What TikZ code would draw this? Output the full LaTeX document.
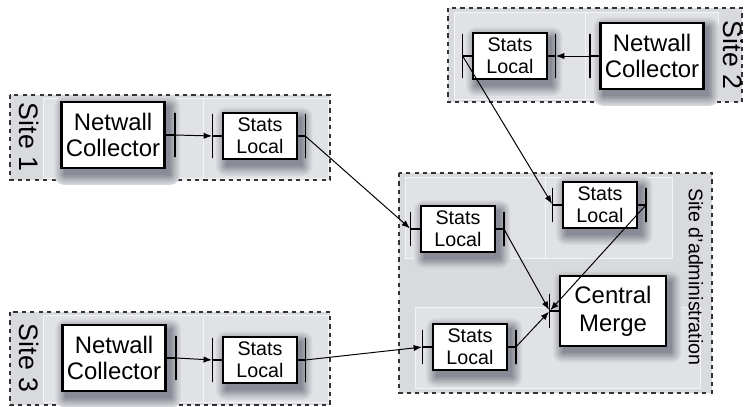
\documentclass[tikz,border=0pt]{standalone}
\usepackage{fontspec}
\setmainfont{Liberation Sans}
\usetikzlibrary{positioning,arrows.meta}
\definecolor{sitegray}{RGB}{216,218,222}
\definecolor{panelgray}{RGB}{224,226,229}
\definecolor{shadegray}{RGB}{40,42,60}
\pgfdeclarelayer{background}
\pgfdeclarelayer{shade}
\pgfsetlayers{background,shade,main}
\tikzset{
  >={Latex[length=6pt,width=4.5pt]},
  site/.style={draw=black!80,dashed,line width=0.8pt,fill=sitegray},
  panel/.style={draw=white!70!sitegray,fill=panelgray,line width=0.4pt},
  sitelbl/.style={rotate=-90,font=\fontsize{19}{21}\selectfont,inner sep=0pt},
  admlbl/.style={rotate=-90,font=\fontsize{14}{16}\selectfont,inner sep=0pt},
  collbox/.style={draw,fill=white,line width=1.8pt,align=center,
    minimum width=2.58cm,minimum height=1.66cm,inner sep=1pt,
    font=\fontsize{17}{19}\selectfont},
  statbox/.style={draw,fill=white,line width=1.8pt,align=center,
    minimum width=1.85cm,minimum height=1.16cm,inner sep=1pt,
    font=\fontsize{14}{15.5}\selectfont},
  mergebox/.style={draw,fill=white,line width=1.8pt,align=center,
    minimum width=2.65cm,minimum height=1.74cm,inner sep=1pt,
    font=\fontsize{17}{20}\selectfont},
  port/.style={draw,line width=0.9pt,minimum width=0pt,inner sep=0pt,
    minimum height=#1},
  port/.default=1.1cm,
  sport/.style={port=1.1cm},
  aport/.style={port=0.86cm},
  stub/.style={line width=0.9pt},
  flow/.style={->,line width=0.7pt},
}
% soft shadow below a box
\newcommand\boxshade[1]{%
  \begin{pgfonlayer}{shade}
  \foreach \m/\c in {7/6,6/11,5/17,4/23,3/29,2/35,1/41,0/47}
    \fill[shadegray!\c!panelgray,rounded corners=\m pt]
      ([xshift=3pt-\m pt,yshift=-4pt-\m pt]#1.south west) rectangle
      ([xshift=3pt+\m pt,yshift=-4pt+\m pt]#1.north east);
  \end{pgfonlayer}}

\begin{document}
\begin{tikzpicture}[x=0.025cm,y=-0.025cm]
  \useasboundingbox (0,0) rectangle (745,407);
  \begin{pgfonlayer}{background}
  % sites
  \draw[site] (10,95) rectangle (330,180);
  \draw[site] (10,312) rectangle (330,405);
  \draw[site] (448,8) rectangle (742,102);
  \draw[site] (399,173) rectangle (712,393);
  % faint panels
  \draw[panel] (43,98) rectangle (203,178);
  \draw[panel] (203,98) rectangle (328,178);
  \draw[panel] (43,315) rectangle (203,402);
  \draw[panel] (203,315) rectangle (328,402);
  \draw[panel] (454,12) rectangle (585,99);
  \draw[panel] (585,12) rectangle (718,99);
  \draw[panel] (405,177) rectangle (545,258);
  \draw[panel] (545,177) rectangle (672,258);
  \draw[panel] (415,307) rectangle (700,388);
  \end{pgfonlayer}
  \node[sitelbl] (lbl1) at (29,137) {Site 1};
  \node[sitelbl] (lbl3) at (29,358) {Site 3};
  \node[sitelbl] (lbl2) at (733,55) {Site 2};
  \node[admlbl] (lbla) at (696,277) {Site d'administration};

  % site 1
  \node[collbox] (nc1) at (113,135) {Netwall\\Collector};
  \node[statbox] (sl1) at (260,136) {Stats\\Local};
  \node[sport,right=6pt of nc1] (nc1o) {};
  \node[sport,left=6pt of sl1] (sl1i) {};
  \node[sport,right=4.5pt of sl1] (sl1o) {};
  % site 3
  \node[collbox] (nc3) at (114,358) {Netwall\\Collector};
  \node[statbox] (sl3) at (260,360) {Stats\\Local};
  \node[sport,right=6pt of nc3] (nc3o) {};
  \node[sport,left=6pt of sl3] (sl3i) {};
  \node[sport,right=4.5pt of sl3] (sl3o) {};
  % site 2
  \node[collbox] (nc2) at (652,56) {Netwall\\Collector};
  \node[statbox] (sl2) at (510,56) {Stats\\Local};
  \node[sport,left=6pt of nc2] (nc2i) {};
  \node[sport,left=6pt of sl2] (sl2i) {};
  \node[sport,right=4.5pt of sl2] (sl2o) {};
  % administration
  \node[statbox] (slA) at (458,229) {Stats\\Local};
  \node[statbox] (slB) at (600,205) {Stats\\Local};
  \node[statbox] (slC) at (470,347) {Stats\\Local};
  \node[mergebox] (cm) at (613,311) {Central\\Merge};
  \node[aport,left=6pt of slA] (slAi) {};
  \node[aport,right=5pt of slA] (slAo) {};
  \node[aport,left=6pt of slB] (slBi) {};
  \node[aport,right=5pt of slB] (slBo) {};
  \node[aport,left=6pt of slC] (slCi) {};
  \node[aport,right=5pt of slC] (slCo) {};
  \node[aport,left=6pt of cm] (cmi) {};

  \foreach \b in {nc1,sl1,nc2,sl2,nc3,sl3,slA,slB,slC,cm}
    \boxshade{\b};

  % stubs
  \foreach \b/\p in {nc1/nc1o,sl1/sl1o,nc3/nc3o,sl3/sl3o,sl2/sl2o,slA/slAo,slB/slBo,slC/slCo}
    \draw[stub] (\b.east) -- (\p.center);
  \foreach \b/\p in {sl1/sl1i,sl3/sl3i,nc2/nc2i,sl2/sl2i,slA/slAi,slB/slBi,slC/slCi,cm/cmi}
    \draw[stub] (\b.west) -- (\p.center);

  % flows
  \draw[flow] (nc1o) -- (sl1i);
  \draw[flow] (nc3o) -- (sl3i);
  \draw[flow] (nc2i) -- (sl2o);
  \draw[flow] (sl1o) -- (slAi);
  \draw[flow] (sl3o) -- (slCi);
  \draw[flow] (sl2i) -- (slBi);
  \draw[flow] (slAo) -- (cmi);
  \draw[flow] (slCo) -- (cmi);
  \draw[flow] (slBo) -- (cmi);
\end{tikzpicture}
\end{document}
